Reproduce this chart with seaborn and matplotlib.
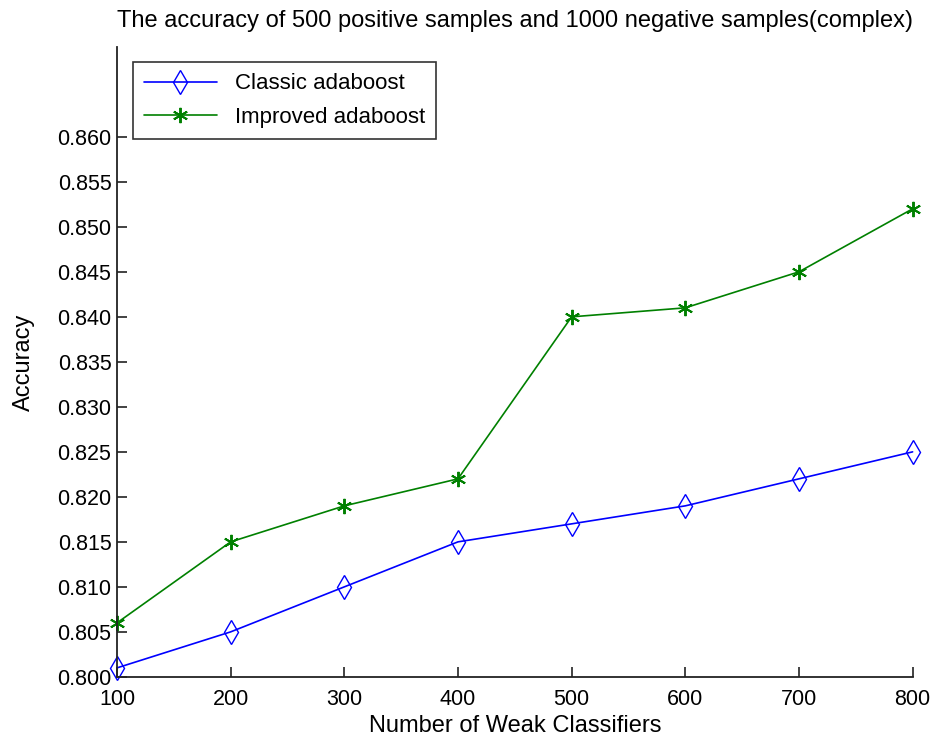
import matplotlib
matplotlib.use("Agg")
import matplotlib.pyplot as plt
import seaborn as sns
import pandas as pd

# data
weak_classifiers = [100, 200, 300, 400, 500, 600, 700, 800]
classic_acc = [0.801, 0.805, 0.810, 0.815, 0.817, 0.819, 0.822, 0.825]
improved_acc = [0.806, 0.815, 0.819, 0.822, 0.840, 0.841, 0.845, 0.852]
y_ticks = [0.800, 0.805, 0.810, 0.815, 0.820, 0.825, 0.830,
           0.835, 0.840, 0.845, 0.850, 0.855, 0.860]

sns.set_style("ticks")
plt.rcParams['font.family'] = ['Liberation Sans', 'DejaVu Sans']
plt.rcParams['text.color'] = 'black'
plt.rcParams['axes.labelcolor'] = 'black'

df = pd.DataFrame({"n": weak_classifiers * 2,
                   "acc": classic_acc + improved_acc,
                   "method": ["Classic adaboost"] * 8 + ["Improved adaboost"] * 8})

fig = plt.figure(figsize=(9.36, 7.43), dpi=100)
ax = fig.add_axes([0.125, 0.089, 0.85, 0.848])

sub = df[df.method == "Classic adaboost"]
sns.lineplot(data=sub, x="n", y="acc", ax=ax, color="#0000ff", lw=1.2,
             marker="d", markersize=12, markerfacecolor="none",
             markeredgecolor="#0000ff", markeredgewidth=1.0,
             label="Classic adaboost", clip_on=False)
sub = df[df.method == "Improved adaboost"]
sns.lineplot(data=sub, x="n", y="acc", ax=ax, color="#008000", lw=1.2,
             marker=(6, 2, 0), markersize=11, markeredgewidth=1.4,
             markeredgecolor="#008000", label="Improved adaboost", clip_on=False)

ax.set_xlim(100, 800)
ax.set_ylim(0.800, 0.870)
ax.set_xticks(weak_classifiers)
ax.set_yticks(y_ticks)
ax.set_yticklabels([f"{v:.3f}" for v in y_ticks])
ax.tick_params(labelsize=15.5, direction="in", length=7, width=1.2,
               labelcolor="black", color="#222222")
ax.tick_params(axis="x", pad=9)
ax.tick_params(axis="y", pad=4)
sns.despine(ax=ax)
for s in ["left", "bottom"]:
    ax.spines[s].set_linewidth(1.3)
    ax.spines[s].set_color("#222222")

ax.set_xlabel("Number of Weak Classifiers", fontsize=17, labelpad=3)
ax.set_ylabel("Accuracy", fontsize=17, labelpad=16)
ax.set_title("The accuracy of 500 positive samples and 1000 negative samples(complex)",
             fontsize=17, pad=14)

leg = ax.legend(loc="upper left", fontsize=16, frameon=True, fancybox=False,
                edgecolor="black", borderaxespad=0.7, handlelength=3.3,
                labelspacing=0.55, borderpad=0.5)
leg.get_frame().set_linewidth(1.2)
for t in leg.get_texts():
    t.set_color("black")

fig.savefig("out.png", dpi=100)
